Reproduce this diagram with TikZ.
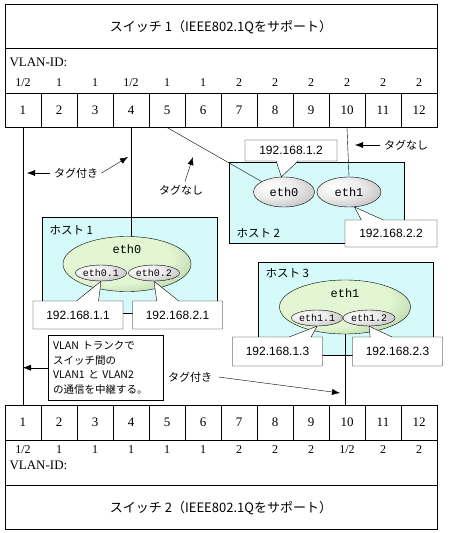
\documentclass[tikz,border=0pt]{standalone}
\usepackage{fontspec}
\setmainfont{Liberation Serif}
\setmonofont{Liberation Mono}
\newfontfamily\jp{Noto Sans CJK JP}
\newfontfamily\ipfont{Liberation Sans}
\usetikzlibrary{arrows.meta}
\usetikzlibrary{positioning}
\usetikzlibrary{shapes.geometric}
\usetikzlibrary{shapes.callouts}
\definecolor{hostcyan}{RGB}{214,250,250}
\definecolor{greenlt}{RGB}{226,246,212}
\definecolor{greendk}{RGB}{145,180,128}
\pgfdeclareradialshading{ifshade}{\pgfpoint{-12bp}{10bp}}{color(0bp)=(white); color(18bp)=(white!85!gray); color(45bp)=(gray!65); color(75bp)=(gray!70)}
\pgfdeclareradialshading{ethshade}{\pgfpoint{-12bp}{10bp}}{color(0bp)=(greenlt); color(25bp)=(greenlt); color(48bp)=(greendk); color(75bp)=(greendk)}
\tikzset{port/.style = {draw, line width=0.9pt, minimum width=36pt, minimum height=34pt,
                        inner sep=0pt, font=\fontsize{13}{13}\selectfont}}
\tikzset{vid/.style = {font=\fontsize{12}{12}\selectfont}}
\tikzset{host/.style = {draw, fill=hostcyan, anchor=north west, minimum width=175pt}}
\tikzset{hostlabel/.style = {anchor=west, font=\jp\fontsize{11.5}{12}\selectfont}}
\tikzset{iface/.style = {ellipse, draw, shade, shading=ifshade, inner sep=0pt,
                         font=\ttfamily\fontsize{10}{10}\selectfont}}
\tikzset{ethbig/.style = {ellipse, draw, shade, shading=ethshade, inner sep=0pt}}
\tikzset{ip/.style = {rectangle callout, draw, fill=white, minimum width=90pt, minimum height=28pt,
                      inner sep=0pt, callout pointer width=22pt, font=\ipfont\fontsize{12}{12}\selectfont}}
\tikzset{tag/.style = {font=\jp\fontsize{11}{11}\selectfont}}
\tikzset{tagarrow/.style = {-{Latex[length=8pt,width=6pt]}}}

\begin{document}
\begin{tikzpicture}[x=1pt, y=-1pt]
      \useasboundingbox (0,0) rectangle (448,533);

      % switch 1
      \draw (5,4) rectangle (437,127);
      \draw (5,48) -- (437,48);
      \node [font=\jp\fontsize{13}{13}\selectfont] (sw1) at (221,27) {スイッチ 1（IEEE802.1Qをサポート）};
      \node [vid, anchor=west, font=\fontsize{13}{13}\selectfont] (vid1) at (6,62) {VLAN-ID:};
      \foreach [count=\i] \v in {{1/2},1,1,{1/2},1,1,2,2,2,2,2,2} {
        \node [port] (s1p\i) at (36*\i-13,110) {\i};
        \node [vid] (s1v\i) at (36*\i-13,83) {\v};
      }

      % switch 2
      \draw (5,405) rectangle (437,529);
      \draw (5,485) -- (437,485);
      \node [font=\jp\fontsize{13}{13}\selectfont] (sw2) at (221,508) {スイッチ 2（IEEE802.1Qをサポート）};
      \node [vid, anchor=west, font=\fontsize{13}{13}\selectfont] (vid2) at (6,465) {VLAN-ID:};
      \foreach [count=\i] \v in {{1/2},1,1,1,1,1,2,2,2,{1/2},2,2} {
        \node [port, minimum height=35pt] (s2p\i) at (36*\i-13,422.5) {\i};
        \node [vid] (s2v\i) at (36*\i-13,450) {\v};
      }

      % hosts
      \node [host, minimum height=81pt] (host2) at (229,162) {};
      \node [hostlabel] (host2l) at (233,233) {ホスト 2};
      \node [host, minimum height=96pt] (host1) at (42,217) {};
      \node [hostlabel] (host1l) at (46,230) {ホスト 1};
      \node [host, minimum height=93pt] (host3) at (258,262) {};
      \node [hostlabel] (host3l) at (262,273) {ホスト 3};

      % interfaces
      \node [ethbig, minimum width=128pt, minimum height=55pt] (h1eth0) at (127,264) {};
      \node [font=\ttfamily\fontsize{12}{12}\selectfont] (h1eth0l) at (127,249) {eth0};
      \node [iface, minimum width=51pt, minimum height=16pt] (h1eth01) at (101,273) {eth0.1};
      \node [iface, minimum width=51pt, minimum height=16pt] (h1eth02) at (154,273) {eth0.2};
      \node [iface, minimum width=61pt, minimum height=30pt, font=\ttfamily\fontsize{12}{12}\selectfont] (h2eth0) at (284,192) {eth0};
      \node [iface, minimum width=64pt, minimum height=30pt, font=\ttfamily\fontsize{12}{12}\selectfont] (h2eth1) at (349,192) {eth1};
      \node [ethbig, minimum width=131pt, minimum height=54pt] (h3eth1) at (345,307) {};
      \node [font=\ttfamily\fontsize{12}{12}\selectfont] (h3eth1l) at (345,293) {eth1};
      \node [iface, minimum width=51pt, minimum height=16pt] (h3eth11) at (317,318) {eth1.1};
      \node [iface, minimum width=52pt, minimum height=16pt] (h3eth12) at (369,318) {eth1.2};

      % links
      \draw (s1p1.south) -- (s2p1.north);
      \draw (s1p4.south) -- (s1p4.south |- h1eth0.north);
      \draw (s1p5.south) -- (h2eth0.155);
      \draw (s1p10.south) -- (h2eth1.north);
      \draw (h3eth1.south) -- (h3eth1.south |- s2p10.north);

      % addresses
      \node [ip, minimum width=92pt, minimum height=21pt, callout absolute pointer={(h2eth0.100)}] (ip12) at (291,150.5) {192.168.1.2};
      \node [ip, minimum width=92pt, minimum height=27pt, callout absolute pointer={(h2eth1.290)}] (ip22) at (391,233.5) {192.168.2.2};
      \node [ip, callout absolute pointer={(h1eth01.south)}] (ip11) at (78,315) {192.168.1.1};
      \node [ip, callout absolute pointer={(h1eth02.south)}] (ip21) at (177.5,315) {192.168.2.1};
      \node [ip, minimum height=29pt, callout absolute pointer={(h3eth11.south)}] (ip13) at (277.5,351.5) {192.168.1.3};
      \node [ip, minimum height=29pt, callout absolute pointer={(h3eth12.south)}] (ip23) at (397.5,351.5) {192.168.2.3};

      % tags
      \node [tag] (tagl) at (76,173) {タグ付き};
      \coordinate (taglw) at (27,173);
      \coordinate (tagle) at (128,157);
      \draw [tagarrow] (tagl.west) -- (taglw);
      \draw [tagarrow] (tagl.east) -- (tagle);
      \node [tag] (tagm) at (181,190) {タグなし};
      \coordinate (tagmn) at (193,157);
      \draw [tagarrow] ([xshift=4pt]tagm.north) -- (tagmn);
      \node [tag] (tagr) at (406,145) {タグなし};
      \coordinate (tagrw) at (355,145);
      \draw [tagarrow] (tagr.west) -- (tagrw);

      \node [draw, fill=white, anchor=north west, minimum width=115pt, minimum height=65pt, text width=105pt,
             align=left, font=\jp\fontsize{10.5}{14.5}\selectfont] (trunk) at (48,335)
            {VLAN トランクで\\スイッチ間の\\VLAN1 と VLAN2\\の通信を中継する。};
      \draw [tagarrow] (trunk.west) -- (trunk.west -| s1p1.south);
      \node [tag] (tagb) at (190,377) {タグ付き};
      \coordinate (tagbe) at (340,393);
      \draw [tagarrow] ([xshift=3pt]tagb.east) -- (tagbe);
    \end{tikzpicture}
\end{document}
